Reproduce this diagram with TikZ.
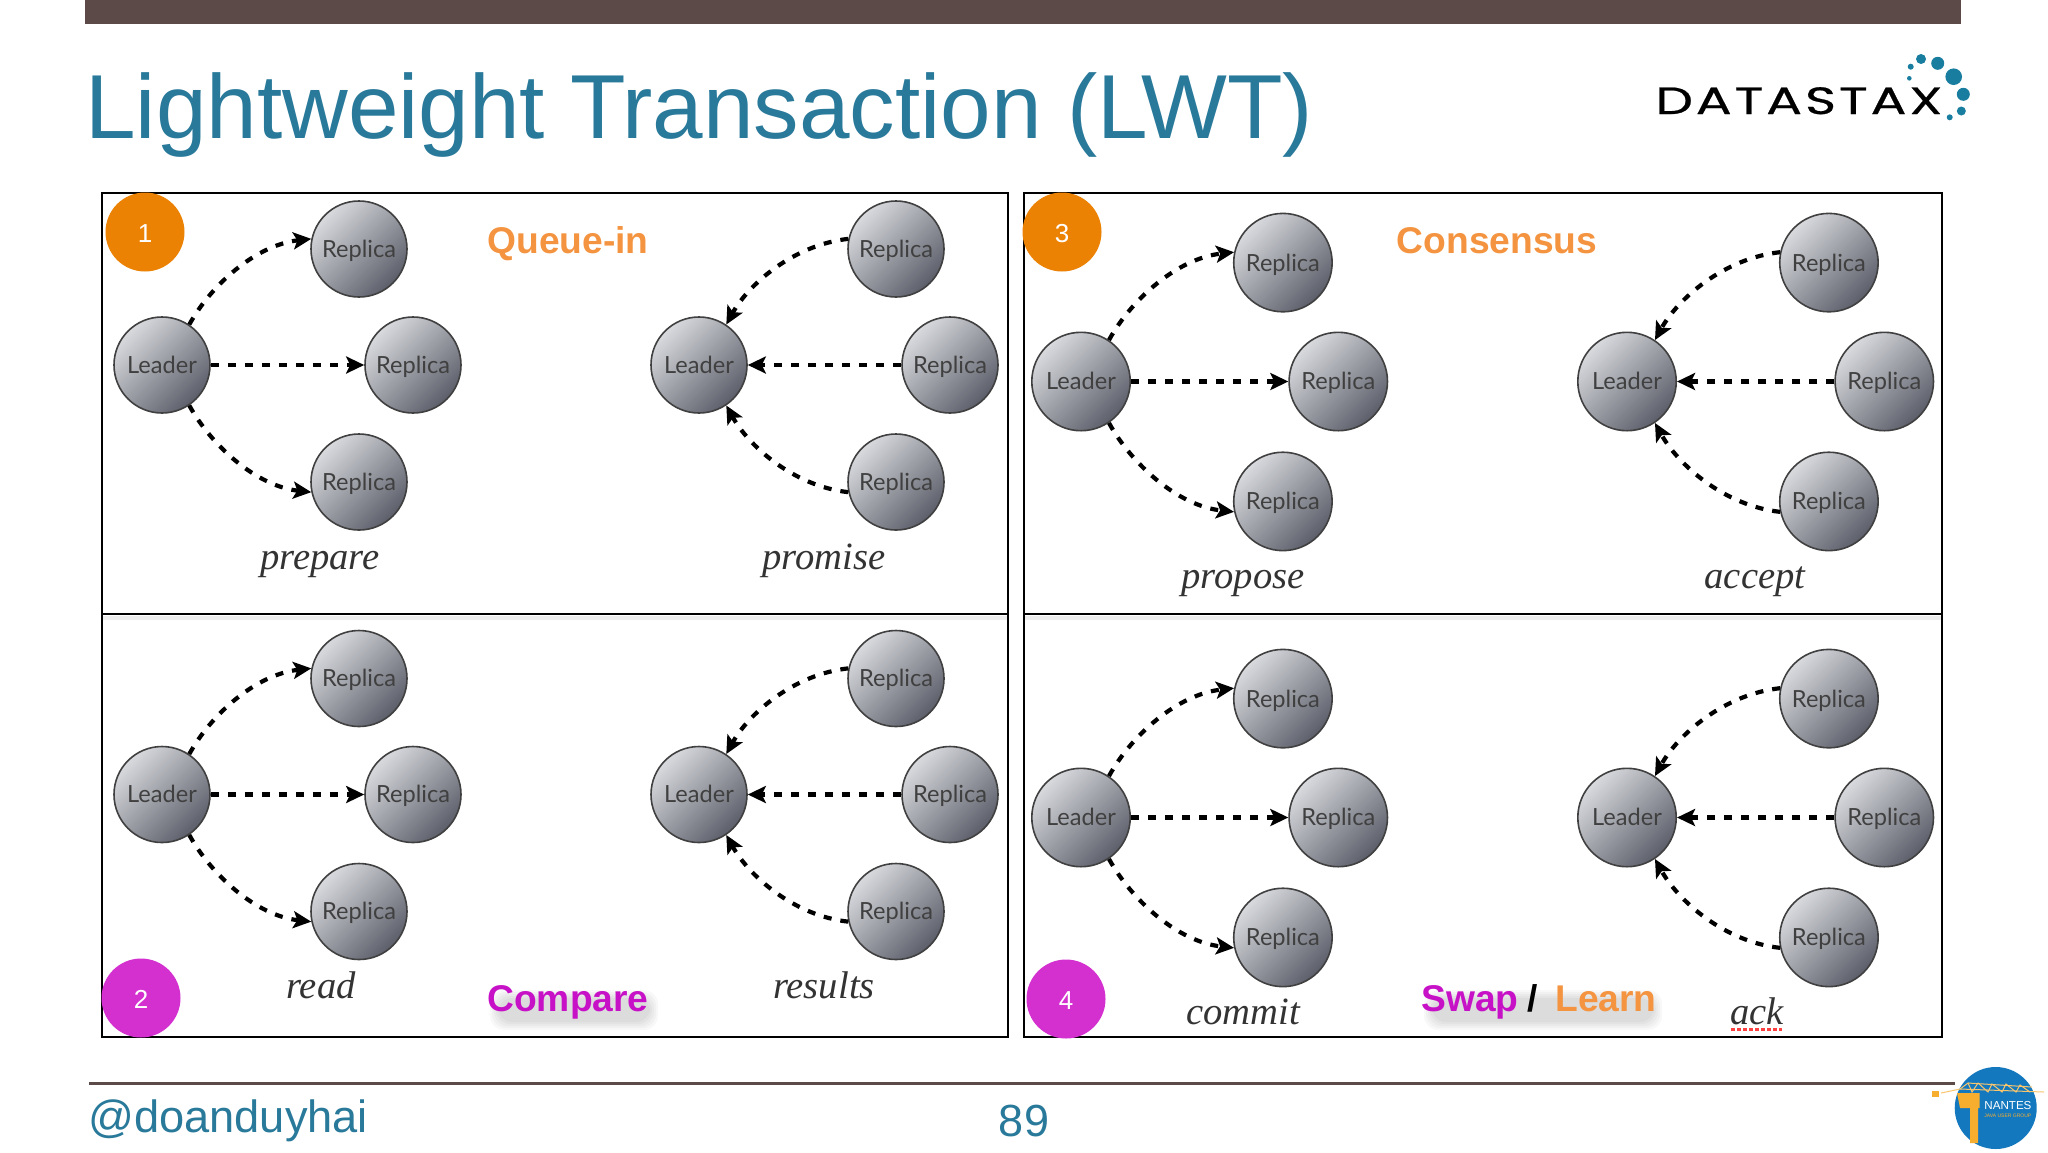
\documentclass[tikz,border=0pt]{standalone}
\usepackage{fontspec}
\setmainfont{Liberation Sans}
\newfontfamily\peerfont{Lato}
\newfontfamily\labelfont{Liberation Serif}
\newfontfamily\logofont[FakeStretch=1.4,LetterSpace=7.5,FakeBold=0.6]{Poppins}
\usetikzlibrary{arrows.meta}
\definecolor{titleteal}{HTML}{28799A}
\definecolor{barbrown}{HTML}{5B4A47}
\definecolor{tagorange}{HTML}{F49440}
\definecolor{tagmagenta}{HTML}{C711C7}
\definecolor{numorange}{HTML}{EC8203}
\definecolor{nummagenta}{HTML}{D42FCF}
\definecolor{peerlight}{HTML}{D8DADE}
\definecolor{peerdark}{HTML}{5C5F6A}
\definecolor{dotteal}{HTML}{187D9F}
\definecolor{njblue}{HTML}{1478BE}
\definecolor{njorange}{HTML}{F7AE2E}
\tikzset{
  peer/.style={circle,draw=black!75,line width=0.8pt,inner sep=0pt,
    text height=9.7pt,text depth=1.3pt,
    top color=peerlight,bottom color=peerdark,shading angle=45,
    text=black!75,font=\peerfont\fontsize{11.8pt}{12pt}\selectfont},
  flow/.style={draw=black,line width=2.1pt,dash pattern=on 4pt off 4.5pt,
    -{Stealth[length=9pt,width=8.5pt,inset=2pt]}},
  panel/.style={draw=black,line width=1.1pt,fill=white},
  tag/.style={inner sep=0pt,anchor=base,font=\bfseries\fontsize{18.6pt}{20pt}\selectfont},
  stage/.style={inner sep=0pt,anchor=base,text=black!80,
    font=\labelfont\itshape\fontsize{19.3pt}{20pt}\selectfont},
  numdot/.style={circle,inner sep=0pt,minimum size=39.5pt,text=white,
    text height=10.3pt,text depth=0pt,
    font=\fontsize{13pt}{14pt}\selectfont},
}
\newcommand{\fanpeers}[4]{%
  \node[peer,minimum size=#4*48pt] (#1L) at (0,0) {Leader};
  \node[peer,minimum size=#4*48pt] (#1A) at (197,-116) {Replica};
  \node[peer,minimum size=#4*48pt] (#1B) at (251,0) {Replica};
  \node[peer,minimum size=#4*48pt] (#1C) at (197,117) {Replica};
}
\newcommand{\fanout}[4]{%
  \begin{scope}[shift={(#2,#3)},scale=#4]
    \fanpeers{#1}{#2}{#3}{#4}
    \draw[flow] (#1L.56) .. controls +(22,-40) and +(-55,6) .. (#1A.168);
    \draw[flow] (#1L.east) -- (#1B.west);
    \draw[flow] (#1L.-56) .. controls +(22,40) and +(-55,-6) .. (#1C.-168);
  \end{scope}}
\newcommand{\fanin}[4]{%
  \begin{scope}[shift={(#2,#3)},scale=#4]
    \fanpeers{#1}{#2}{#3}{#4}
    \draw[flow] (#1A.168) .. controls +(-55,6) and +(22,-40) .. (#1L.56);
    \draw[flow] (#1B.west) -- (#1L.east);
    \draw[flow] (#1C.-168) .. controls +(-55,-6) and +(22,40) .. (#1L.-56);
  \end{scope}}
\newcommand{\softshadow}[4]{%
  \foreach \g in {0,2,4,6,8}{
    \fill[black,opacity=0.028,rounded corners=7pt]
      (#1+\g,#2+\g) rectangle (#3-\g,#4-\g);
  }}
\begin{document}
\begin{tikzpicture}[x=0.5pt,y=-0.5pt]
\useasboundingbox (0,0) rectangle (2048,1152);
\fill[white] (0,0) rectangle (2048,1152);
% top bar, title
\fill[barbrown] (85,0) rectangle (1961,24);
\node[inner sep=0pt,anchor=base west,text=titleteal,font=\fontsize{45.45pt}{50pt}\selectfont]
  (title) at (85,138) {Lightweight Transaction (LWT)};
% logo
\node[inner sep=0pt,anchor=base west,text=black,font=\logofont\fontsize{19pt}{20pt}\selectfont]
  (logo) at (1655,114) {DATASTAX};
\foreach \px/\py/\pr in {1921/59/5,1937.7/63.3/6.5,1953.7/76.7/8.3,1963.3/94.3/6.5,1961.3/111/4.5,1949.7/117.3/3,1910.7/66.7/3,1909.3/78.3/2.3}{
  \fill[dotteal] (\px,\py) circle[radius=\pr*0.5pt];
}
% panels
\draw[panel] (102,193) rectangle (1008,1037);
\draw[panel] (1024,193) rectangle (1942,1037);
\fill[black!7] (103,616) rectangle (1007,620);
\fill[black!7] (1025,616) rectangle (1941,620);
\draw[black,line width=1.1pt] (102,614) -- (1008,614);
\draw[black,line width=1.1pt] (1024,614) -- (1942,614);
% cell groups
\fanout{pa}{162}{365}{1}
\fanin{pb}{699}{365}{1}
\fanout{ra}{162}{794.5}{1}
\fanin{rb}{699}{794.5}{1}
\fanout{ca}{1081}{381.5}{1.025}
\fanin{cb}{1627}{381.5}{1.025}
\fanout{da}{1081}{817.5}{1.025}
\fanin{db}{1627}{817.5}{1.025}
% stage labels
\node[stage] (s1) at (320,569) {prepare};
\node[stage] (s2) at (824,569) {promise};
\node[stage] (s3) at (321,998) {read};
\node[stage] (s4) at (824,998) {results};
\node[stage] (s5) at (1243,588) {propose};
\node[stage] (s6) at (1755,588) {accept};
\node[stage] (s7) at (1243,1024) {commit};
\node[stage] (s8) at (1757,1024) {ack};
\draw[red!75!white,line width=1.5pt,dash pattern=on 2pt off 1pt] (1731,1029) -- (1782,1029);
% phase tags
\node[tag,text=tagorange] (q) at (568,253) {Queue-in};
\node[tag,text=tagorange] (cons) at (1497,253) {Consensus};
\softshadow{490}{990}{658}{1030}
\softshadow{1424}{990}{1662}{1030}
\node[tag,text=tagmagenta] (cmp) at (568,1011) {Compare};
\node[tag,text=tagmagenta,anchor=base west] (sw) at (1421,1011) {Swap};
\node[tag,text=black,anchor=base west] (sl) at (1527,1011) {/};
\node[tag,text=tagorange,anchor=base west] (le) at (1555,1011) {Learn};
% number dots
\node[numdot,fill=numorange] (n1) at (145,232) {1};
\node[numdot,fill=nummagenta] (n2) at (141,998) {2};
\node[numdot,fill=numorange] (n3) at (1062,232) {3};
\node[numdot,fill=nummagenta] (n4) at (1066,999) {4};
% footer
\draw[barbrown,line width=1.5pt] (89,1083) -- (1955,1083);
\node[inner sep=0pt,anchor=base west,text=titleteal,font=\fontsize{22.6pt}{24pt}\selectfont]
  (handle) at (88,1132) {@doanduyhai};
\node[inner sep=0pt,anchor=base,text=titleteal,font=\fontsize{22.5pt}{24pt}\selectfont]
  (page) at (1024,1136) {89};
% Nantes JUG badge
\fill[njblue] (1995.7,1108) circle[radius=20.5pt];
\fill[njorange] (1957,1093) -- (1979.5,1093) -- (1979.5,1108) -- (1978,1108) -- (1978,1143) -- (1970,1143) -- (1970,1108) -- (1960,1108) -- cycle;
\fill[njorange] (1932,1091) rectangle (1939,1097);
\draw[njorange!70!white,line width=0.5pt] (1941,1093) -- (1960,1089) -- (2044,1092);
\draw[njorange!70!white,line width=0.5pt] (1960,1089) -- (1968,1083) -- (1972,1092) -- (1978,1083) -- (1988,1092) -- (1992,1084) -- (2002,1092) -- (2006,1084) -- (2016,1092) -- (2020,1085) -- (2030,1092);
\draw[njorange!70!white,line width=0.5pt] (1968,1083) -- (2032,1087);
\node[inner sep=0pt,anchor=base west,text=white,font=\fontsize{5.8pt}{6pt}\selectfont]
  (nj) at (1984,1109) {NANTES};
\node[inner sep=0pt,anchor=base west,text=njorange,font=\fontsize{2.5pt}{3pt}\selectfont]
  (jug) at (1984,1117) {JAVA USER GROUP};
\end{tikzpicture}
\end{document}
